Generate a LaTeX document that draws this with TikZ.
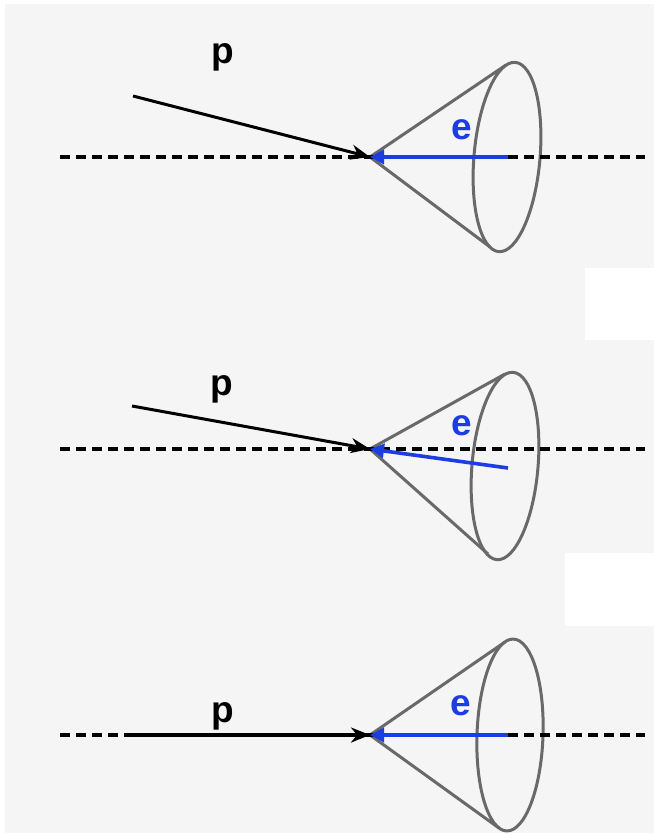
\documentclass[tikz,border=0pt]{standalone}
\usepackage{fontspec}
\setmainfont{Liberation Sans}
\usetikzlibrary{arrows.meta}
\definecolor{bgc}{RGB}{245,245,245}
\definecolor{conec}{RGB}{105,105,105}
\definecolor{bluec}{RGB}{28,60,228}
\tikzset{
  axisline/.style={line width=3.8pt, dash pattern=on 10pt off 6pt},
  conestyle/.style={draw=conec, line width=3pt, line join=round},
  parrow/.style={line width=3pt, -{Stealth[length=19pt,width=15pt,inset=6pt]}},
  parrowthick/.style={line width=4.8pt, -{Stealth[length=19pt,width=15pt,inset=6pt]}},
  earrow/.style={bluec, line width=3.6pt, -{Triangle[length=14pt,width=14pt]}},
  lbl/.style={font=\bfseries\fontsize{37}{40}\selectfont, inner sep=0pt, anchor=base},
}
\begin{document}
\begin{tikzpicture}[x=1pt,y=-1pt]
\useasboundingbox (0,0) rectangle (654,835);
\fill[bgc] (5,4) rectangle (654,833);
\fill[white] (585,268) rectangle (654,340);
\fill[white] (565,553) rectangle (654,626);

% ---------- panel 1 ----------
\coordinate (a1) at (370,157);
\coordinate (t1) at (506,65);
\coordinate (b1) at (490,247);
\coordinate (l1) at (60,157);
\coordinate (r1) at (645,157);
\coordinate (ps1) at (133,96);
\coordinate (ee1) at (508,157);
\draw[conestyle] (507,157) ellipse[x radius=33, y radius=95, rotate=-5];
\draw[conestyle] (t1) -- (a1) -- (b1);
\draw[axisline] (l1) -- (r1);
\draw[parrow] (ps1) -- (a1);
\draw[earrow] (ee1) -- (a1);
\node[lbl] (p1) at (223,63) {p};
\node[lbl, text=bluec] (e1) at (462,139) {e};

% ---------- panel 2 ----------
\coordinate (a2) at (370,449);
\coordinate (t2) at (505,374);
\coordinate (b2) at (488,554);
\coordinate (l2) at (60,449);
\coordinate (r2) at (645,449);
\coordinate (ps2) at (132,406);
\coordinate (ee2) at (508,468);
\draw[conestyle] (505,466) ellipse[x radius=33, y radius=94, rotate=-5];
\draw[conestyle] (t2) -- (a2) -- (b2);
\draw[axisline] (l2) -- (r2);
\draw[parrow] (ps2) -- (a2);
\draw[earrow] (ee2) -- (a2);
\node[lbl] (p2) at (222,395) {p};
\node[lbl, text=bluec] (e2) at (462,435) {e};

% ---------- panel 3 ----------
\coordinate (a3) at (370,735);
\coordinate (t3) at (505,642);
\coordinate (b3) at (499,828);
\coordinate (l3) at (60,735);
\coordinate (r3) at (645,735);
\coordinate (ps3) at (130,735);
\coordinate (ee3) at (508,735);
\draw[conestyle] (510,735) ellipse[x radius=33, y radius=96, rotate=-2];
\draw[conestyle] (t3) -- (a3) -- (b3);
\draw[axisline] (l3) -- (r3);
\draw[parrowthick] (ps3) -- (a3);
\draw[earrow] (ee3) -- (a3);
\node[lbl] (p3) at (223,722) {p};
\node[lbl, text=bluec] (e3) at (461,715) {e};
\end{tikzpicture}
\end{document}
